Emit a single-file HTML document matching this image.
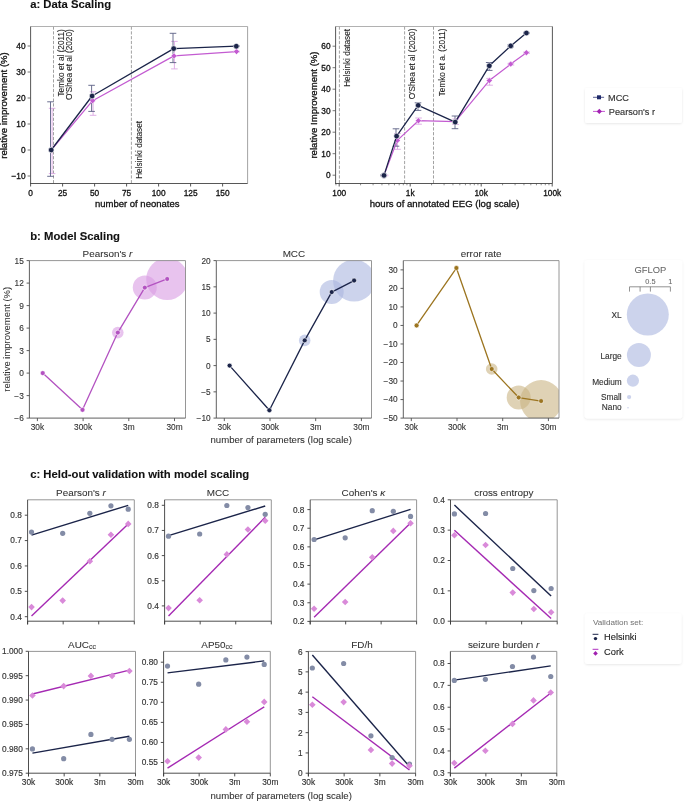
<!DOCTYPE html>
<html><head><meta charset="utf-8"><title>Scaling figure</title>
<style>html,body{margin:0;padding:0;background:#fff;width:685px;height:801px;overflow:hidden}svg{display:block;will-change:transform}
text{font-family:"Liberation Sans", sans-serif}</style></head>
<body>
<svg width="685" height="801" viewBox="0 0 685 801" font-family='"Liberation Sans", sans-serif'><defs><filter id="sh" x="-10%" y="-10%" width="120%" height="130%"><feDropShadow dx="0" dy="0.8" stdDeviation="1.2" flood-color="#000" flood-opacity="0.10"/></filter></defs><rect width="685" height="801" fill="#fff"/><text x="30.2" y="7.8" font-size="11.3" text-anchor="start" fill="#111" stroke="#111" stroke-width="0.1" font-weight="bold">a: Data Scaling</text>
<line x1="53.5" y1="26.5" x2="53.5" y2="183.5" stroke="#8a8a8a" stroke-width="0.8" stroke-dasharray="3.2 1.6"/>
<line x1="131.4" y1="26.5" x2="131.4" y2="183.5" stroke="#8a8a8a" stroke-width="0.8" stroke-dasharray="3.2 1.6"/>
<line x1="30.6" y1="26.5" x2="247.6" y2="26.5" stroke="#a8a8a8" stroke-width="0.9"/>
<line x1="247.6" y1="26.5" x2="247.6" y2="183.5" stroke="#999" stroke-width="0.9"/>
<line x1="30.6" y1="26.5" x2="30.6" y2="183.95" stroke="#444" stroke-width="0.9"/>
<line x1="30.15" y1="183.5" x2="247.6" y2="183.5" stroke="#444" stroke-width="0.9"/>
<line x1="30.6" y1="183.5" x2="30.6" y2="186.5" stroke="#444" stroke-width="0.9"/>
<text x="30.6" y="195.9" font-size="8.3" text-anchor="middle" fill="#111" stroke="#111" stroke-width="0.3">0</text>
<line x1="62.6" y1="183.5" x2="62.6" y2="186.5" stroke="#444" stroke-width="0.9"/>
<text x="62.6" y="195.9" font-size="8.3" text-anchor="middle" fill="#111" stroke="#111" stroke-width="0.3">25</text>
<line x1="94.6" y1="183.5" x2="94.6" y2="186.5" stroke="#444" stroke-width="0.9"/>
<text x="94.6" y="195.9" font-size="8.3" text-anchor="middle" fill="#111" stroke="#111" stroke-width="0.3">50</text>
<line x1="126.6" y1="183.5" x2="126.6" y2="186.5" stroke="#444" stroke-width="0.9"/>
<text x="126.6" y="195.9" font-size="8.3" text-anchor="middle" fill="#111" stroke="#111" stroke-width="0.3">75</text>
<line x1="158.6" y1="183.5" x2="158.6" y2="186.5" stroke="#444" stroke-width="0.9"/>
<text x="158.6" y="195.9" font-size="8.3" text-anchor="middle" fill="#111" stroke="#111" stroke-width="0.3">100</text>
<line x1="190.6" y1="183.5" x2="190.6" y2="186.5" stroke="#444" stroke-width="0.9"/>
<text x="190.6" y="195.9" font-size="8.3" text-anchor="middle" fill="#111" stroke="#111" stroke-width="0.3">125</text>
<line x1="222.6" y1="183.5" x2="222.6" y2="186.5" stroke="#444" stroke-width="0.9"/>
<text x="222.6" y="195.9" font-size="8.3" text-anchor="middle" fill="#111" stroke="#111" stroke-width="0.3">150</text>
<line x1="27.6" y1="176" x2="30.6" y2="176" stroke="#555" stroke-width="0.8"/>
<text x="25.6" y="178.9" font-size="8.3" text-anchor="end" fill="#111" stroke="#111" stroke-width="0.3">−10</text>
<line x1="27.6" y1="150" x2="30.6" y2="150" stroke="#555" stroke-width="0.8"/>
<text x="25.6" y="152.9" font-size="8.3" text-anchor="end" fill="#111" stroke="#111" stroke-width="0.3">0</text>
<line x1="27.6" y1="124" x2="30.6" y2="124" stroke="#555" stroke-width="0.8"/>
<text x="25.6" y="126.9" font-size="8.3" text-anchor="end" fill="#111" stroke="#111" stroke-width="0.3">10</text>
<line x1="27.6" y1="98" x2="30.6" y2="98" stroke="#555" stroke-width="0.8"/>
<text x="25.6" y="100.9" font-size="8.3" text-anchor="end" fill="#111" stroke="#111" stroke-width="0.3">20</text>
<line x1="27.6" y1="72" x2="30.6" y2="72" stroke="#555" stroke-width="0.8"/>
<text x="25.6" y="74.9" font-size="8.3" text-anchor="end" fill="#111" stroke="#111" stroke-width="0.3">30</text>
<line x1="27.6" y1="46" x2="30.6" y2="46" stroke="#555" stroke-width="0.8"/>
<text x="25.6" y="48.9" font-size="8.3" text-anchor="end" fill="#111" stroke="#111" stroke-width="0.3">40</text>
<text x="7.3" y="105.5" font-size="9.6" text-anchor="middle" fill="#111" stroke="#111" stroke-width="0.3" transform="rotate(-90 7.3 105.5)">relative improvement (%)</text>
<text x="137.2" y="206.6" font-size="9.5" text-anchor="middle" fill="#111" stroke="#111" stroke-width="0.3">number of neonates</text>
<text x="63.6" y="29.3" font-size="8.2" text-anchor="end" fill="#222" stroke="#222" stroke-width="0.1" transform="rotate(-90 63.6 29.3)">Temko et al (2011)</text>
<text x="72.4" y="29.3" font-size="8.2" text-anchor="end" fill="#222" stroke="#222" stroke-width="0.1" transform="rotate(-90 72.4 29.3)">O'Shea et al (2020)</text>
<text x="141.6" y="178.8" font-size="8.2" text-anchor="start" fill="#222" stroke="#222" stroke-width="0.1" transform="rotate(-90 141.6 178.8)">Helsinki dataset</text>
<line x1="52.1" y1="108.3" x2="52.1" y2="173.6" stroke="#dba7e3" stroke-width="0.9"/>
<line x1="48.8" y1="108.3" x2="55.4" y2="108.3" stroke="#dba7e3" stroke-width="0.9"/>
<line x1="48.8" y1="173.6" x2="55.4" y2="173.6" stroke="#dba7e3" stroke-width="0.9"/>
<line x1="93.1" y1="91.8" x2="93.1" y2="115.3" stroke="#dba7e3" stroke-width="0.9"/>
<line x1="89.8" y1="91.8" x2="96.4" y2="91.8" stroke="#dba7e3" stroke-width="0.9"/>
<line x1="89.8" y1="115.3" x2="96.4" y2="115.3" stroke="#dba7e3" stroke-width="0.9"/>
<line x1="174.4" y1="41.4" x2="174.4" y2="68.9" stroke="#dba7e3" stroke-width="0.9"/>
<line x1="171.1" y1="41.4" x2="177.7" y2="41.4" stroke="#dba7e3" stroke-width="0.9"/>
<line x1="171.1" y1="68.9" x2="177.7" y2="68.9" stroke="#dba7e3" stroke-width="0.9"/>
<line x1="236.5" y1="51.2" x2="236.5" y2="52" stroke="#dba7e3" stroke-width="0.9"/>
<line x1="233.2" y1="51.2" x2="239.8" y2="51.2" stroke="#dba7e3" stroke-width="0.9"/>
<line x1="233.2" y1="52" x2="239.8" y2="52" stroke="#dba7e3" stroke-width="0.9"/>
<line x1="50.5" y1="101.8" x2="50.5" y2="176.3" stroke="#5b6085" stroke-width="0.9"/>
<line x1="47.2" y1="101.8" x2="53.8" y2="101.8" stroke="#5b6085" stroke-width="0.9"/>
<line x1="47.2" y1="176.3" x2="53.8" y2="176.3" stroke="#5b6085" stroke-width="0.9"/>
<line x1="91.6" y1="85.3" x2="91.6" y2="111.4" stroke="#5b6085" stroke-width="0.9"/>
<line x1="88.3" y1="85.3" x2="94.9" y2="85.3" stroke="#5b6085" stroke-width="0.9"/>
<line x1="88.3" y1="111.4" x2="94.9" y2="111.4" stroke="#5b6085" stroke-width="0.9"/>
<line x1="173" y1="33.3" x2="173" y2="62.6" stroke="#5b6085" stroke-width="0.9"/>
<line x1="169.7" y1="33.3" x2="176.3" y2="33.3" stroke="#5b6085" stroke-width="0.9"/>
<line x1="169.7" y1="62.6" x2="176.3" y2="62.6" stroke="#5b6085" stroke-width="0.9"/>
<line x1="236.3" y1="45.6" x2="236.3" y2="46.6" stroke="#5b6085" stroke-width="0.9"/>
<line x1="233" y1="45.6" x2="239.6" y2="45.6" stroke="#5b6085" stroke-width="0.9"/>
<line x1="233" y1="46.6" x2="239.6" y2="46.6" stroke="#5b6085" stroke-width="0.9"/>
<polyline points="51.2,150 92.6,100.7 174,55.9 236.5,51.6" fill="none" stroke="#c35bd1" stroke-width="1.2" stroke-linejoin="round"/>
<path d="M51.2 147L54.2 150L51.2 153L48.2 150Z" fill="#c35bd1" stroke="#fff" stroke-width="0.5"/>
<path d="M92.6 97.7L95.6 100.7L92.6 103.7L89.6 100.7Z" fill="#c35bd1" stroke="#fff" stroke-width="0.5"/>
<path d="M174 52.9L177 55.9L174 58.9L171 55.9Z" fill="#c35bd1" stroke="#fff" stroke-width="0.5"/>
<path d="M236.5 48.6L239.5 51.6L236.5 54.6L233.5 51.6Z" fill="#c35bd1" stroke="#fff" stroke-width="0.5"/>
<polyline points="51.2,150 92.1,96 173.7,48.6 236.3,46.2" fill="none" stroke="#1b2449" stroke-width="1.3" stroke-linejoin="round"/>
<circle cx="51.2" cy="150" r="2.8" fill="#1b2449" stroke="#fff" stroke-width="0.6"/>
<circle cx="92.1" cy="96" r="2.8" fill="#1b2449" stroke="#fff" stroke-width="0.6"/>
<circle cx="173.7" cy="48.6" r="2.8" fill="#1b2449" stroke="#fff" stroke-width="0.6"/>
<circle cx="236.3" cy="46.2" r="2.8" fill="#1b2449" stroke="#fff" stroke-width="0.6"/>
<line x1="339.4" y1="26.5" x2="339.4" y2="183.5" stroke="#8a8a8a" stroke-width="0.8" stroke-dasharray="3.2 1.6"/>
<line x1="404.6" y1="26.5" x2="404.6" y2="183.5" stroke="#8a8a8a" stroke-width="0.8" stroke-dasharray="3.2 1.6"/>
<line x1="433.5" y1="26.5" x2="433.5" y2="183.5" stroke="#8a8a8a" stroke-width="0.8" stroke-dasharray="3.2 1.6"/>
<line x1="335.6" y1="26.5" x2="552.4" y2="26.5" stroke="#a8a8a8" stroke-width="0.9"/>
<line x1="552.4" y1="26.5" x2="552.4" y2="183.5" stroke="#444" stroke-width="0.9"/>
<line x1="335.6" y1="26.5" x2="335.6" y2="183.95" stroke="#444" stroke-width="0.9"/>
<line x1="335.15" y1="183.5" x2="552.4" y2="183.5" stroke="#444" stroke-width="0.9"/>
<line x1="335.95" y1="183.5" x2="335.95" y2="185.3" stroke="#444" stroke-width="0.6"/>
<line x1="360.57" y1="183.5" x2="360.57" y2="185.3" stroke="#444" stroke-width="0.6"/>
<line x1="373.08" y1="183.5" x2="373.08" y2="185.3" stroke="#444" stroke-width="0.6"/>
<line x1="381.95" y1="183.5" x2="381.95" y2="185.3" stroke="#444" stroke-width="0.6"/>
<line x1="388.83" y1="183.5" x2="388.83" y2="185.3" stroke="#444" stroke-width="0.6"/>
<line x1="394.45" y1="183.5" x2="394.45" y2="185.3" stroke="#444" stroke-width="0.6"/>
<line x1="399.2" y1="183.5" x2="399.2" y2="185.3" stroke="#444" stroke-width="0.6"/>
<line x1="403.32" y1="183.5" x2="403.32" y2="185.3" stroke="#444" stroke-width="0.6"/>
<line x1="406.95" y1="183.5" x2="406.95" y2="185.3" stroke="#444" stroke-width="0.6"/>
<line x1="431.57" y1="183.5" x2="431.57" y2="185.3" stroke="#444" stroke-width="0.6"/>
<line x1="444.08" y1="183.5" x2="444.08" y2="185.3" stroke="#444" stroke-width="0.6"/>
<line x1="452.95" y1="183.5" x2="452.95" y2="185.3" stroke="#444" stroke-width="0.6"/>
<line x1="459.83" y1="183.5" x2="459.83" y2="185.3" stroke="#444" stroke-width="0.6"/>
<line x1="465.45" y1="183.5" x2="465.45" y2="185.3" stroke="#444" stroke-width="0.6"/>
<line x1="470.2" y1="183.5" x2="470.2" y2="185.3" stroke="#444" stroke-width="0.6"/>
<line x1="474.32" y1="183.5" x2="474.32" y2="185.3" stroke="#444" stroke-width="0.6"/>
<line x1="477.95" y1="183.5" x2="477.95" y2="185.3" stroke="#444" stroke-width="0.6"/>
<line x1="502.57" y1="183.5" x2="502.57" y2="185.3" stroke="#444" stroke-width="0.6"/>
<line x1="515.08" y1="183.5" x2="515.08" y2="185.3" stroke="#444" stroke-width="0.6"/>
<line x1="523.95" y1="183.5" x2="523.95" y2="185.3" stroke="#444" stroke-width="0.6"/>
<line x1="530.83" y1="183.5" x2="530.83" y2="185.3" stroke="#444" stroke-width="0.6"/>
<line x1="536.45" y1="183.5" x2="536.45" y2="185.3" stroke="#444" stroke-width="0.6"/>
<line x1="541.2" y1="183.5" x2="541.2" y2="185.3" stroke="#444" stroke-width="0.6"/>
<line x1="545.32" y1="183.5" x2="545.32" y2="185.3" stroke="#444" stroke-width="0.6"/>
<line x1="548.95" y1="183.5" x2="548.95" y2="185.3" stroke="#444" stroke-width="0.6"/>
<line x1="339.2" y1="183.5" x2="339.2" y2="186.5" stroke="#444" stroke-width="0.9"/>
<text x="339.2" y="196.1" font-size="8.3" text-anchor="middle" fill="#111" stroke="#111" stroke-width="0.3">100</text>
<line x1="410.2" y1="183.5" x2="410.2" y2="186.5" stroke="#444" stroke-width="0.9"/>
<text x="410.2" y="196.1" font-size="8.3" text-anchor="middle" fill="#111" stroke="#111" stroke-width="0.3">1k</text>
<line x1="481.2" y1="183.5" x2="481.2" y2="186.5" stroke="#444" stroke-width="0.9"/>
<text x="481.2" y="196.1" font-size="8.3" text-anchor="middle" fill="#111" stroke="#111" stroke-width="0.3">10k</text>
<line x1="552.2" y1="183.5" x2="552.2" y2="186.5" stroke="#444" stroke-width="0.9"/>
<text x="552.2" y="196.1" font-size="8.3" text-anchor="middle" fill="#111" stroke="#111" stroke-width="0.3">100k</text>
<line x1="332.6" y1="175.2" x2="335.6" y2="175.2" stroke="#555" stroke-width="0.8"/>
<text x="330.6" y="178.1" font-size="8.3" text-anchor="end" fill="#111" stroke="#111" stroke-width="0.3">0</text>
<line x1="332.6" y1="153.7" x2="335.6" y2="153.7" stroke="#555" stroke-width="0.8"/>
<text x="330.6" y="156.6" font-size="8.3" text-anchor="end" fill="#111" stroke="#111" stroke-width="0.3">10</text>
<line x1="332.6" y1="132.2" x2="335.6" y2="132.2" stroke="#555" stroke-width="0.8"/>
<text x="330.6" y="135.1" font-size="8.3" text-anchor="end" fill="#111" stroke="#111" stroke-width="0.3">20</text>
<line x1="332.6" y1="110.7" x2="335.6" y2="110.7" stroke="#555" stroke-width="0.8"/>
<text x="330.6" y="113.6" font-size="8.3" text-anchor="end" fill="#111" stroke="#111" stroke-width="0.3">30</text>
<line x1="332.6" y1="89.2" x2="335.6" y2="89.2" stroke="#555" stroke-width="0.8"/>
<text x="330.6" y="92.1" font-size="8.3" text-anchor="end" fill="#111" stroke="#111" stroke-width="0.3">40</text>
<line x1="332.6" y1="67.7" x2="335.6" y2="67.7" stroke="#555" stroke-width="0.8"/>
<text x="330.6" y="70.6" font-size="8.3" text-anchor="end" fill="#111" stroke="#111" stroke-width="0.3">50</text>
<line x1="332.6" y1="46.2" x2="335.6" y2="46.2" stroke="#555" stroke-width="0.8"/>
<text x="330.6" y="49.1" font-size="8.3" text-anchor="end" fill="#111" stroke="#111" stroke-width="0.3">60</text>
<text x="316.6" y="105" font-size="9.6" text-anchor="middle" fill="#111" stroke="#111" stroke-width="0.3" transform="rotate(-90 316.6 105)">relative Improvement (%)</text>
<text x="444.6" y="206.8" font-size="9.6" text-anchor="middle" fill="#111" stroke="#111" stroke-width="0.3">hours of annotated EEG (log scale)</text>
<text x="349.5" y="29" font-size="8.2" text-anchor="end" fill="#222" stroke="#222" stroke-width="0.1" transform="rotate(-90 349.5 29)">Helsinki dataset</text>
<text x="414.8" y="28.6" font-size="8.2" text-anchor="end" fill="#222" stroke="#222" stroke-width="0.1" transform="rotate(-90 414.8 28.6)">O'Shea et al (2020)</text>
<text x="445.4" y="28.6" font-size="8.2" text-anchor="end" fill="#222" stroke="#222" stroke-width="0.1" transform="rotate(-90 445.4 28.6)">Temko et a. (2011)</text>
<line x1="385" y1="175" x2="385" y2="175.8" stroke="#dba7e3" stroke-width="0.9"/>
<line x1="381.7" y1="175" x2="388.3" y2="175" stroke="#dba7e3" stroke-width="0.9"/>
<line x1="381.7" y1="175.8" x2="388.3" y2="175.8" stroke="#dba7e3" stroke-width="0.9"/>
<line x1="397.5" y1="133.5" x2="397.5" y2="149.3" stroke="#dba7e3" stroke-width="0.9"/>
<line x1="394.2" y1="133.5" x2="400.8" y2="133.5" stroke="#dba7e3" stroke-width="0.9"/>
<line x1="394.2" y1="149.3" x2="400.8" y2="149.3" stroke="#dba7e3" stroke-width="0.9"/>
<line x1="418.6" y1="118" x2="418.6" y2="124.2" stroke="#dba7e3" stroke-width="0.9"/>
<line x1="415.3" y1="118" x2="421.9" y2="118" stroke="#dba7e3" stroke-width="0.9"/>
<line x1="415.3" y1="124.2" x2="421.9" y2="124.2" stroke="#dba7e3" stroke-width="0.9"/>
<line x1="455.6" y1="119" x2="455.6" y2="124.5" stroke="#dba7e3" stroke-width="0.9"/>
<line x1="452.3" y1="119" x2="458.9" y2="119" stroke="#dba7e3" stroke-width="0.9"/>
<line x1="452.3" y1="124.5" x2="458.9" y2="124.5" stroke="#dba7e3" stroke-width="0.9"/>
<line x1="489.6" y1="78.4" x2="489.6" y2="85.2" stroke="#dba7e3" stroke-width="0.9"/>
<line x1="486.3" y1="78.4" x2="492.9" y2="78.4" stroke="#dba7e3" stroke-width="0.9"/>
<line x1="486.3" y1="85.2" x2="492.9" y2="85.2" stroke="#dba7e3" stroke-width="0.9"/>
<line x1="510.9" y1="63.3" x2="510.9" y2="65" stroke="#dba7e3" stroke-width="0.9"/>
<line x1="507.6" y1="63.3" x2="514.2" y2="63.3" stroke="#dba7e3" stroke-width="0.9"/>
<line x1="507.6" y1="65" x2="514.2" y2="65" stroke="#dba7e3" stroke-width="0.9"/>
<line x1="526.6" y1="52" x2="526.6" y2="53.4" stroke="#dba7e3" stroke-width="0.9"/>
<line x1="523.3" y1="52" x2="529.9" y2="52" stroke="#dba7e3" stroke-width="0.9"/>
<line x1="523.3" y1="53.4" x2="529.9" y2="53.4" stroke="#dba7e3" stroke-width="0.9"/>
<line x1="383.4" y1="175" x2="383.4" y2="175.8" stroke="#5b6085" stroke-width="0.9"/>
<line x1="380.1" y1="175" x2="386.7" y2="175" stroke="#5b6085" stroke-width="0.9"/>
<line x1="380.1" y1="175.8" x2="386.7" y2="175.8" stroke="#5b6085" stroke-width="0.9"/>
<line x1="396" y1="128.8" x2="396" y2="146.2" stroke="#5b6085" stroke-width="0.9"/>
<line x1="392.7" y1="128.8" x2="399.3" y2="128.8" stroke="#5b6085" stroke-width="0.9"/>
<line x1="392.7" y1="146.2" x2="399.3" y2="146.2" stroke="#5b6085" stroke-width="0.9"/>
<line x1="418" y1="102.8" x2="418" y2="110.4" stroke="#5b6085" stroke-width="0.9"/>
<line x1="414.7" y1="102.8" x2="421.3" y2="102.8" stroke="#5b6085" stroke-width="0.9"/>
<line x1="414.7" y1="110.4" x2="421.3" y2="110.4" stroke="#5b6085" stroke-width="0.9"/>
<line x1="455" y1="116" x2="455" y2="128.7" stroke="#5b6085" stroke-width="0.9"/>
<line x1="451.7" y1="116" x2="458.3" y2="116" stroke="#5b6085" stroke-width="0.9"/>
<line x1="451.7" y1="128.7" x2="458.3" y2="128.7" stroke="#5b6085" stroke-width="0.9"/>
<line x1="489.2" y1="62.5" x2="489.2" y2="70.4" stroke="#5b6085" stroke-width="0.9"/>
<line x1="485.9" y1="62.5" x2="492.5" y2="62.5" stroke="#5b6085" stroke-width="0.9"/>
<line x1="485.9" y1="70.4" x2="492.5" y2="70.4" stroke="#5b6085" stroke-width="0.9"/>
<line x1="510.6" y1="45" x2="510.6" y2="46.8" stroke="#5b6085" stroke-width="0.9"/>
<line x1="507.3" y1="45" x2="513.9" y2="45" stroke="#5b6085" stroke-width="0.9"/>
<line x1="507.3" y1="46.8" x2="513.9" y2="46.8" stroke="#5b6085" stroke-width="0.9"/>
<line x1="526.4" y1="32.4" x2="526.4" y2="33.6" stroke="#5b6085" stroke-width="0.9"/>
<line x1="523.1" y1="32.4" x2="529.7" y2="32.4" stroke="#5b6085" stroke-width="0.9"/>
<line x1="523.1" y1="33.6" x2="529.7" y2="33.6" stroke="#5b6085" stroke-width="0.9"/>
<polyline points="384,175.4 397.3,140.4 418.4,120.7 455.2,121.6 489.3,80.6 510.7,64.1 526.4,52.7" fill="none" stroke="#c35bd1" stroke-width="1.2" stroke-linejoin="round"/>
<path d="M384 172.4L387 175.4L384 178.4L381 175.4Z" fill="#c35bd1" stroke="#fff" stroke-width="0.5"/>
<path d="M397.3 137.4L400.3 140.4L397.3 143.4L394.3 140.4Z" fill="#c35bd1" stroke="#fff" stroke-width="0.5"/>
<path d="M418.4 117.7L421.4 120.7L418.4 123.7L415.4 120.7Z" fill="#c35bd1" stroke="#fff" stroke-width="0.5"/>
<path d="M455.2 118.6L458.2 121.6L455.2 124.6L452.2 121.6Z" fill="#c35bd1" stroke="#fff" stroke-width="0.5"/>
<path d="M489.3 77.6L492.3 80.6L489.3 83.6L486.3 80.6Z" fill="#c35bd1" stroke="#fff" stroke-width="0.5"/>
<path d="M510.7 61.1L513.7 64.1L510.7 67.1L507.7 64.1Z" fill="#c35bd1" stroke="#fff" stroke-width="0.5"/>
<path d="M526.4 49.7L529.4 52.7L526.4 55.7L523.4 52.7Z" fill="#c35bd1" stroke="#fff" stroke-width="0.5"/>
<polyline points="384,175.4 396.6,136.1 418.2,105.3 455.2,122.1 489.3,65.8 510.7,45.9 526.4,33" fill="none" stroke="#1b2449" stroke-width="1.3" stroke-linejoin="round"/>
<circle cx="384" cy="175.4" r="2.8" fill="#1b2449" stroke="#fff" stroke-width="0.6"/>
<circle cx="396.6" cy="136.1" r="2.8" fill="#1b2449" stroke="#fff" stroke-width="0.6"/>
<circle cx="418.2" cy="105.3" r="2.8" fill="#1b2449" stroke="#fff" stroke-width="0.6"/>
<circle cx="455.2" cy="122.1" r="2.8" fill="#1b2449" stroke="#fff" stroke-width="0.6"/>
<circle cx="489.3" cy="65.8" r="2.8" fill="#1b2449" stroke="#fff" stroke-width="0.6"/>
<circle cx="510.7" cy="45.9" r="2.8" fill="#1b2449" stroke="#fff" stroke-width="0.6"/>
<circle cx="526.4" cy="33" r="2.8" fill="#1b2449" stroke="#fff" stroke-width="0.6"/>
<rect x="585" y="88" width="97" height="35" fill="#fff" rx="2" filter="url(#sh)"/>
<line x1="593" y1="97.3" x2="604.1" y2="97.3" stroke="#5a5f90" stroke-width="1"/>
<rect x="597" y="95.3" width="4" height="4" fill="#1f2a6a"/>
<text x="608" y="101" font-size="9.2" text-anchor="start" fill="#333" stroke="#333" stroke-width="0.15">MCC</text>
<line x1="593" y1="111.4" x2="605" y2="111.4" stroke="#c45ad2" stroke-width="1"/>
<path d="M599.3 108.8L601.9 111.4L599.3 114L596.7 111.4Z" fill="#a323b3"/>
<text x="608.8" y="114.6" font-size="9.2" text-anchor="start" fill="#333" stroke="#333" stroke-width="0.15">Pearson's r</text>
<text x="30.2" y="240.4" font-size="11.3" text-anchor="start" fill="#111" stroke="#111" stroke-width="0.1" font-weight="bold">b: Model Scaling</text>
<clipPath id="c29"><rect x="29.4" y="260.6" width="156.1" height="157.5"/></clipPath>
<g clip-path="url(#c29)">
<circle cx="42.7" cy="373.1" r="0.7" fill="#d99be3" fill-opacity="0.6"/>
<circle cx="82.5" cy="409.85" r="2" fill="#d99be3" fill-opacity="0.6"/>
<circle cx="117.8" cy="332.6" r="5.8" fill="#d99be3" fill-opacity="0.6"/>
<circle cx="144.8" cy="287.6" r="12" fill="#d99be3" fill-opacity="0.6"/>
<circle cx="167.2" cy="278.98" r="21" fill="#d99be3" fill-opacity="0.6"/>
</g>
<polyline points="42.7,373.1 82.5,409.85 117.8,332.6 144.8,287.6 167.2,278.98" fill="none" stroke="#b352c1" stroke-width="1.3" stroke-linejoin="round"/>
<circle cx="42.7" cy="373.1" r="2.45" fill="#b352c1" stroke="#fff" stroke-width="0.55"/>
<circle cx="82.5" cy="409.85" r="2.45" fill="#b352c1" stroke="#fff" stroke-width="0.55"/>
<circle cx="117.8" cy="332.6" r="2.45" fill="#b352c1" stroke="#fff" stroke-width="0.55"/>
<circle cx="144.8" cy="287.6" r="2.45" fill="#b352c1" stroke="#fff" stroke-width="0.55"/>
<circle cx="167.2" cy="278.98" r="2.45" fill="#b352c1" stroke="#fff" stroke-width="0.55"/>
<line x1="29.4" y1="260.6" x2="185.5" y2="260.6" stroke="#8a8a8a" stroke-width="0.9"/>
<line x1="185.5" y1="260.6" x2="185.5" y2="418.1" stroke="#8a8a8a" stroke-width="0.9"/>
<line x1="29.4" y1="260.6" x2="29.4" y2="418.1" stroke="#4d4d4d" stroke-width="0.9"/>
<line x1="29.4" y1="418.1" x2="185.5" y2="418.1" stroke="#4d4d4d" stroke-width="0.9"/>
<line x1="37.4" y1="418.1" x2="37.4" y2="421.1" stroke="#4d4d4d" stroke-width="0.9"/>
<text x="37.4" y="429.6" font-size="8.3" text-anchor="middle" fill="#333" stroke="#333" stroke-width="0.12">30k</text>
<line x1="83.1" y1="418.1" x2="83.1" y2="421.1" stroke="#4d4d4d" stroke-width="0.9"/>
<text x="83.1" y="429.6" font-size="8.3" text-anchor="middle" fill="#333" stroke="#333" stroke-width="0.12">300k</text>
<line x1="128.8" y1="418.1" x2="128.8" y2="421.1" stroke="#4d4d4d" stroke-width="0.9"/>
<text x="128.8" y="429.6" font-size="8.3" text-anchor="middle" fill="#333" stroke="#333" stroke-width="0.12">3m</text>
<line x1="174.5" y1="418.1" x2="174.5" y2="421.1" stroke="#4d4d4d" stroke-width="0.9"/>
<text x="174.5" y="429.6" font-size="8.3" text-anchor="middle" fill="#333" stroke="#333" stroke-width="0.12">30m</text>
<line x1="26.6" y1="260.6" x2="29.4" y2="260.6" stroke="#4d4d4d" stroke-width="0.9"/>
<text x="23.8" y="263.5" font-size="8.3" text-anchor="end" fill="#333" stroke="#333" stroke-width="0.12">15</text>
<line x1="26.6" y1="283.1" x2="29.4" y2="283.1" stroke="#4d4d4d" stroke-width="0.9"/>
<text x="23.8" y="286" font-size="8.3" text-anchor="end" fill="#333" stroke="#333" stroke-width="0.12">12</text>
<line x1="26.6" y1="305.6" x2="29.4" y2="305.6" stroke="#4d4d4d" stroke-width="0.9"/>
<text x="23.8" y="308.5" font-size="8.3" text-anchor="end" fill="#333" stroke="#333" stroke-width="0.12">9</text>
<line x1="26.6" y1="328.1" x2="29.4" y2="328.1" stroke="#4d4d4d" stroke-width="0.9"/>
<text x="23.8" y="331" font-size="8.3" text-anchor="end" fill="#333" stroke="#333" stroke-width="0.12">6</text>
<line x1="26.6" y1="350.6" x2="29.4" y2="350.6" stroke="#4d4d4d" stroke-width="0.9"/>
<text x="23.8" y="353.5" font-size="8.3" text-anchor="end" fill="#333" stroke="#333" stroke-width="0.12">3</text>
<line x1="26.6" y1="373.1" x2="29.4" y2="373.1" stroke="#4d4d4d" stroke-width="0.9"/>
<text x="23.8" y="376" font-size="8.3" text-anchor="end" fill="#333" stroke="#333" stroke-width="0.12">0</text>
<line x1="26.6" y1="395.6" x2="29.4" y2="395.6" stroke="#4d4d4d" stroke-width="0.9"/>
<text x="23.8" y="398.5" font-size="8.3" text-anchor="end" fill="#333" stroke="#333" stroke-width="0.12">−3</text>
<line x1="26.6" y1="418.1" x2="29.4" y2="418.1" stroke="#4d4d4d" stroke-width="0.9"/>
<text x="23.8" y="421" font-size="8.3" text-anchor="end" fill="#333" stroke="#333" stroke-width="0.12">−6</text>
<text x="107.45" y="256.6" font-size="9.9" text-anchor="middle" fill="#333" stroke="#333" stroke-width="0.08">Pearson's <tspan font-style="italic">r</tspan></text>
<clipPath id="c216"><rect x="216.3" y="260.6" width="155.2" height="157.5"/></clipPath>
<g clip-path="url(#c216)">
<circle cx="229.6" cy="365.6" r="0.7" fill="#aab6df" fill-opacity="0.6"/>
<circle cx="269.4" cy="410.23" r="2" fill="#aab6df" fill-opacity="0.6"/>
<circle cx="304.7" cy="340.4" r="5.8" fill="#aab6df" fill-opacity="0.6"/>
<circle cx="331.7" cy="292.1" r="12" fill="#aab6df" fill-opacity="0.6"/>
<circle cx="354.1" cy="280.55" r="21" fill="#aab6df" fill-opacity="0.6"/>
</g>
<polyline points="229.6,365.6 269.4,410.23 304.7,340.4 331.7,292.1 354.1,280.55" fill="none" stroke="#1b2449" stroke-width="1.3" stroke-linejoin="round"/>
<circle cx="229.6" cy="365.6" r="2.45" fill="#1b2449" stroke="#fff" stroke-width="0.55"/>
<circle cx="269.4" cy="410.23" r="2.45" fill="#1b2449" stroke="#fff" stroke-width="0.55"/>
<circle cx="304.7" cy="340.4" r="2.45" fill="#1b2449" stroke="#fff" stroke-width="0.55"/>
<circle cx="331.7" cy="292.1" r="2.45" fill="#1b2449" stroke="#fff" stroke-width="0.55"/>
<circle cx="354.1" cy="280.55" r="2.45" fill="#1b2449" stroke="#fff" stroke-width="0.55"/>
<line x1="216.3" y1="260.6" x2="371.5" y2="260.6" stroke="#8a8a8a" stroke-width="0.9"/>
<line x1="371.5" y1="260.6" x2="371.5" y2="418.1" stroke="#8a8a8a" stroke-width="0.9"/>
<line x1="216.3" y1="260.6" x2="216.3" y2="418.1" stroke="#4d4d4d" stroke-width="0.9"/>
<line x1="216.3" y1="418.1" x2="371.5" y2="418.1" stroke="#4d4d4d" stroke-width="0.9"/>
<line x1="224.3" y1="418.1" x2="224.3" y2="421.1" stroke="#4d4d4d" stroke-width="0.9"/>
<text x="224.3" y="429.6" font-size="8.3" text-anchor="middle" fill="#333" stroke="#333" stroke-width="0.12">30k</text>
<line x1="270" y1="418.1" x2="270" y2="421.1" stroke="#4d4d4d" stroke-width="0.9"/>
<text x="270" y="429.6" font-size="8.3" text-anchor="middle" fill="#333" stroke="#333" stroke-width="0.12">300k</text>
<line x1="315.7" y1="418.1" x2="315.7" y2="421.1" stroke="#4d4d4d" stroke-width="0.9"/>
<text x="315.7" y="429.6" font-size="8.3" text-anchor="middle" fill="#333" stroke="#333" stroke-width="0.12">3m</text>
<line x1="361.4" y1="418.1" x2="361.4" y2="421.1" stroke="#4d4d4d" stroke-width="0.9"/>
<text x="361.4" y="429.6" font-size="8.3" text-anchor="middle" fill="#333" stroke="#333" stroke-width="0.12">30m</text>
<line x1="213.5" y1="260.6" x2="216.3" y2="260.6" stroke="#4d4d4d" stroke-width="0.9"/>
<text x="210.7" y="263.5" font-size="8.3" text-anchor="end" fill="#333" stroke="#333" stroke-width="0.12">20</text>
<line x1="213.5" y1="286.85" x2="216.3" y2="286.85" stroke="#4d4d4d" stroke-width="0.9"/>
<text x="210.7" y="289.75" font-size="8.3" text-anchor="end" fill="#333" stroke="#333" stroke-width="0.12">15</text>
<line x1="213.5" y1="313.1" x2="216.3" y2="313.1" stroke="#4d4d4d" stroke-width="0.9"/>
<text x="210.7" y="316" font-size="8.3" text-anchor="end" fill="#333" stroke="#333" stroke-width="0.12">10</text>
<line x1="213.5" y1="339.35" x2="216.3" y2="339.35" stroke="#4d4d4d" stroke-width="0.9"/>
<text x="210.7" y="342.25" font-size="8.3" text-anchor="end" fill="#333" stroke="#333" stroke-width="0.12">5</text>
<line x1="213.5" y1="365.6" x2="216.3" y2="365.6" stroke="#4d4d4d" stroke-width="0.9"/>
<text x="210.7" y="368.5" font-size="8.3" text-anchor="end" fill="#333" stroke="#333" stroke-width="0.12">0</text>
<line x1="213.5" y1="391.85" x2="216.3" y2="391.85" stroke="#4d4d4d" stroke-width="0.9"/>
<text x="210.7" y="394.75" font-size="8.3" text-anchor="end" fill="#333" stroke="#333" stroke-width="0.12">−5</text>
<line x1="213.5" y1="418.1" x2="216.3" y2="418.1" stroke="#4d4d4d" stroke-width="0.9"/>
<text x="210.7" y="421" font-size="8.3" text-anchor="end" fill="#333" stroke="#333" stroke-width="0.12">−10</text>
<text x="293.9" y="256.6" font-size="9.9" text-anchor="middle" fill="#333" stroke="#333" stroke-width="0.08">MCC</text>
<clipPath id="c403"><rect x="403.3" y="260.6" width="155.7" height="157.5"/></clipPath>
<g clip-path="url(#c403)">
<circle cx="416.6" cy="325.45" r="0.7" fill="#cab484" fill-opacity="0.6"/>
<circle cx="456.4" cy="268.01" r="2" fill="#cab484" fill-opacity="0.6"/>
<circle cx="491.7" cy="369" r="5.8" fill="#cab484" fill-opacity="0.6"/>
<circle cx="518.7" cy="397.53" r="12" fill="#cab484" fill-opacity="0.6"/>
<circle cx="541.1" cy="401.05" r="21" fill="#cab484" fill-opacity="0.6"/>
</g>
<polyline points="416.6,325.45 456.4,268.01 491.7,369 518.7,397.53 541.1,401.05" fill="none" stroke="#9c7520" stroke-width="1.3" stroke-linejoin="round"/>
<circle cx="416.6" cy="325.45" r="2.45" fill="#9c7520" stroke="#fff" stroke-width="0.55"/>
<circle cx="456.4" cy="268.01" r="2.45" fill="#9c7520" stroke="#fff" stroke-width="0.55"/>
<circle cx="491.7" cy="369" r="2.45" fill="#9c7520" stroke="#fff" stroke-width="0.55"/>
<circle cx="518.7" cy="397.53" r="2.45" fill="#9c7520" stroke="#fff" stroke-width="0.55"/>
<circle cx="541.1" cy="401.05" r="2.45" fill="#9c7520" stroke="#fff" stroke-width="0.55"/>
<line x1="403.3" y1="260.6" x2="559" y2="260.6" stroke="#8a8a8a" stroke-width="0.9"/>
<line x1="559" y1="260.6" x2="559" y2="418.1" stroke="#8a8a8a" stroke-width="0.9"/>
<line x1="403.3" y1="260.6" x2="403.3" y2="418.1" stroke="#4d4d4d" stroke-width="0.9"/>
<line x1="403.3" y1="418.1" x2="559" y2="418.1" stroke="#4d4d4d" stroke-width="0.9"/>
<line x1="411.3" y1="418.1" x2="411.3" y2="421.1" stroke="#4d4d4d" stroke-width="0.9"/>
<text x="411.3" y="429.6" font-size="8.3" text-anchor="middle" fill="#333" stroke="#333" stroke-width="0.12">30k</text>
<line x1="457" y1="418.1" x2="457" y2="421.1" stroke="#4d4d4d" stroke-width="0.9"/>
<text x="457" y="429.6" font-size="8.3" text-anchor="middle" fill="#333" stroke="#333" stroke-width="0.12">300k</text>
<line x1="502.7" y1="418.1" x2="502.7" y2="421.1" stroke="#4d4d4d" stroke-width="0.9"/>
<text x="502.7" y="429.6" font-size="8.3" text-anchor="middle" fill="#333" stroke="#333" stroke-width="0.12">3m</text>
<line x1="548.4" y1="418.1" x2="548.4" y2="421.1" stroke="#4d4d4d" stroke-width="0.9"/>
<text x="548.4" y="429.6" font-size="8.3" text-anchor="middle" fill="#333" stroke="#333" stroke-width="0.12">30m</text>
<line x1="400.5" y1="269.86" x2="403.3" y2="269.86" stroke="#4d4d4d" stroke-width="0.9"/>
<text x="397.7" y="272.76" font-size="8.3" text-anchor="end" fill="#333" stroke="#333" stroke-width="0.12">30</text>
<line x1="400.5" y1="288.39" x2="403.3" y2="288.39" stroke="#4d4d4d" stroke-width="0.9"/>
<text x="397.7" y="291.29" font-size="8.3" text-anchor="end" fill="#333" stroke="#333" stroke-width="0.12">20</text>
<line x1="400.5" y1="306.92" x2="403.3" y2="306.92" stroke="#4d4d4d" stroke-width="0.9"/>
<text x="397.7" y="309.82" font-size="8.3" text-anchor="end" fill="#333" stroke="#333" stroke-width="0.12">10</text>
<line x1="400.5" y1="325.45" x2="403.3" y2="325.45" stroke="#4d4d4d" stroke-width="0.9"/>
<text x="397.7" y="328.35" font-size="8.3" text-anchor="end" fill="#333" stroke="#333" stroke-width="0.12">0</text>
<line x1="400.5" y1="343.98" x2="403.3" y2="343.98" stroke="#4d4d4d" stroke-width="0.9"/>
<text x="397.7" y="346.88" font-size="8.3" text-anchor="end" fill="#333" stroke="#333" stroke-width="0.12">−10</text>
<line x1="400.5" y1="362.51" x2="403.3" y2="362.51" stroke="#4d4d4d" stroke-width="0.9"/>
<text x="397.7" y="365.41" font-size="8.3" text-anchor="end" fill="#333" stroke="#333" stroke-width="0.12">−20</text>
<line x1="400.5" y1="381.04" x2="403.3" y2="381.04" stroke="#4d4d4d" stroke-width="0.9"/>
<text x="397.7" y="383.94" font-size="8.3" text-anchor="end" fill="#333" stroke="#333" stroke-width="0.12">−30</text>
<line x1="400.5" y1="399.57" x2="403.3" y2="399.57" stroke="#4d4d4d" stroke-width="0.9"/>
<text x="397.7" y="402.47" font-size="8.3" text-anchor="end" fill="#333" stroke="#333" stroke-width="0.12">−40</text>
<line x1="400.5" y1="418.1" x2="403.3" y2="418.1" stroke="#4d4d4d" stroke-width="0.9"/>
<text x="397.7" y="421" font-size="8.3" text-anchor="end" fill="#333" stroke="#333" stroke-width="0.12">−50</text>
<text x="481.15" y="256.6" font-size="9.9" text-anchor="middle" fill="#333" stroke="#333" stroke-width="0.08">error rate</text>
<text x="10" y="339.3" font-size="9.45" text-anchor="middle" fill="#333" stroke="#333" stroke-width="0.05" transform="rotate(-90 10 339.3)">relative improvement (%)</text>
<text x="281.2" y="443.4" font-size="9.6" text-anchor="middle" fill="#333" stroke="#333" stroke-width="0.08">number of parameters (log scale)</text>
<rect x="584.6" y="260.1" width="97.7" height="158.4" fill="#fff" rx="3" filter="url(#sh)"/>
<text x="650.4" y="272.5" font-size="9.4" text-anchor="middle" fill="#666" stroke="#666" stroke-width="0.05">GFLOP</text>
<line x1="629.5" y1="286.8" x2="670.4" y2="286.8" stroke="#777" stroke-width="0.8"/>
<line x1="629.5" y1="286.8" x2="629.5" y2="291.6" stroke="#777" stroke-width="0.8"/>
<line x1="640.1" y1="286.8" x2="640.1" y2="291.6" stroke="#777" stroke-width="0.8"/>
<line x1="650.4" y1="286.8" x2="650.4" y2="291.6" stroke="#777" stroke-width="0.8"/>
<line x1="670.4" y1="286.8" x2="670.4" y2="291.6" stroke="#777" stroke-width="0.8"/>
<text x="650.4" y="283.7" font-size="7.4" text-anchor="middle" fill="#666" stroke="#666" stroke-width="0.05">0.5</text>
<text x="670.4" y="283.7" font-size="7.4" text-anchor="middle" fill="#666" stroke="#666" stroke-width="0.05">1</text>
<circle cx="647.8" cy="314.5" r="21" fill="#aab6df" fill-opacity="0.6"/>
<text x="621.7" y="318" font-size="8.3" text-anchor="end" fill="#333" stroke="#333" stroke-width="0.12">XL</text>
<circle cx="638.9" cy="354.9" r="12" fill="#aab6df" fill-opacity="0.6"/>
<text x="621.7" y="358.5" font-size="8.3" text-anchor="end" fill="#333" stroke="#333" stroke-width="0.12">Large</text>
<circle cx="632.9" cy="380.7" r="6.1" fill="#aab6df" fill-opacity="0.6"/>
<text x="621.7" y="384.8" font-size="8.3" text-anchor="end" fill="#333" stroke="#333" stroke-width="0.12">Medium</text>
<circle cx="629.1" cy="397.1" r="2.1" fill="#aab6df" fill-opacity="0.6"/>
<text x="621.7" y="400" font-size="8.3" text-anchor="end" fill="#333" stroke="#333" stroke-width="0.12">Small</text>
<circle cx="628" cy="407.7" r="0.8" fill="#aab6df" fill-opacity="0.6"/>
<text x="621.7" y="410.2" font-size="8.3" text-anchor="end" fill="#333" stroke="#333" stroke-width="0.12">Nano</text>
<text x="30.2" y="478" font-size="11.3" text-anchor="start" fill="#111" stroke="#111" stroke-width="0.1" font-weight="bold">c: Held-out validation with model scaling</text>
<line x1="27.6" y1="499.8" x2="134.3" y2="499.8" stroke="#8a8a8a" stroke-width="0.9"/>
<line x1="134.3" y1="499.8" x2="134.3" y2="621.2" stroke="#8a8a8a" stroke-width="0.9"/>
<line x1="27.6" y1="499.8" x2="27.6" y2="624.4" stroke="#3a3a3a" stroke-width="0.9"/>
<line x1="27.6" y1="621.2" x2="134.3" y2="621.2" stroke="#3a3a3a" stroke-width="0.9"/>
<line x1="27.6" y1="621.2" x2="27.6" y2="624.4" stroke="#3a3a3a" stroke-width="0.9"/>
<line x1="63.17" y1="621.2" x2="63.17" y2="624.4" stroke="#3a3a3a" stroke-width="0.9"/>
<line x1="98.73" y1="621.2" x2="98.73" y2="624.4" stroke="#3a3a3a" stroke-width="0.9"/>
<line x1="134.3" y1="621.2" x2="134.3" y2="624.4" stroke="#3a3a3a" stroke-width="0.9"/>
<line x1="24.8" y1="515.2" x2="27.6" y2="515.2" stroke="#3a3a3a" stroke-width="0.9"/>
<text x="21.9" y="518.1" font-size="8.3" text-anchor="end" fill="#333" stroke="#333" stroke-width="0.15">0.8</text>
<line x1="24.8" y1="540.58" x2="27.6" y2="540.58" stroke="#3a3a3a" stroke-width="0.9"/>
<text x="21.9" y="543.48" font-size="8.3" text-anchor="end" fill="#333" stroke="#333" stroke-width="0.15">0.7</text>
<line x1="24.8" y1="565.95" x2="27.6" y2="565.95" stroke="#3a3a3a" stroke-width="0.9"/>
<text x="21.9" y="568.85" font-size="8.3" text-anchor="end" fill="#333" stroke="#333" stroke-width="0.15">0.6</text>
<line x1="24.8" y1="591.33" x2="27.6" y2="591.33" stroke="#3a3a3a" stroke-width="0.9"/>
<text x="21.9" y="594.23" font-size="8.3" text-anchor="end" fill="#333" stroke="#333" stroke-width="0.15">0.5</text>
<line x1="24.8" y1="616.7" x2="27.6" y2="616.7" stroke="#3a3a3a" stroke-width="0.9"/>
<text x="21.9" y="619.6" font-size="8.3" text-anchor="end" fill="#333" stroke="#333" stroke-width="0.15">0.4</text>
<line x1="31.52" y1="535.2" x2="128.22" y2="505.3" stroke="#1b2449" stroke-width="1.4"/>
<line x1="31.52" y1="616.1" x2="128.22" y2="523.9" stroke="#a52ab3" stroke-width="1.4"/>
<circle cx="31.52" cy="532.1" r="2.6" fill="#838ca6"/>
<circle cx="62.67" cy="533.3" r="2.6" fill="#838ca6"/>
<circle cx="89.84" cy="513.3" r="2.6" fill="#838ca6"/>
<circle cx="110.93" cy="505.8" r="2.6" fill="#838ca6"/>
<circle cx="128.22" cy="509.2" r="2.6" fill="#838ca6"/>
<path d="M31.52 603.8L34.82 607.1L31.52 610.4L28.22 607.1Z" fill="#d98ad9"/>
<path d="M62.67 597.3L65.97 600.6L62.67 603.9L59.37 600.6Z" fill="#d98ad9"/>
<path d="M89.84 558L93.14 561.3L89.84 564.6L86.54 561.3Z" fill="#d98ad9"/>
<path d="M110.93 531.5L114.23 534.8L110.93 538.1L107.63 534.8Z" fill="#d98ad9"/>
<path d="M128.22 520.6L131.52 523.9L128.22 527.2L124.92 523.9Z" fill="#d98ad9"/>
<text x="80.95" y="496" font-size="9.9" text-anchor="middle" fill="#333" stroke="#333" stroke-width="0.08">Pearson's <tspan font-style="italic">r</tspan></text>
<line x1="164.6" y1="499.8" x2="271.3" y2="499.8" stroke="#8a8a8a" stroke-width="0.9"/>
<line x1="271.3" y1="499.8" x2="271.3" y2="621.2" stroke="#8a8a8a" stroke-width="0.9"/>
<line x1="164.6" y1="499.8" x2="164.6" y2="624.4" stroke="#3a3a3a" stroke-width="0.9"/>
<line x1="164.6" y1="621.2" x2="271.3" y2="621.2" stroke="#3a3a3a" stroke-width="0.9"/>
<line x1="164.6" y1="621.2" x2="164.6" y2="624.4" stroke="#3a3a3a" stroke-width="0.9"/>
<line x1="200.17" y1="621.2" x2="200.17" y2="624.4" stroke="#3a3a3a" stroke-width="0.9"/>
<line x1="235.73" y1="621.2" x2="235.73" y2="624.4" stroke="#3a3a3a" stroke-width="0.9"/>
<line x1="271.3" y1="621.2" x2="271.3" y2="624.4" stroke="#3a3a3a" stroke-width="0.9"/>
<line x1="161.8" y1="505.3" x2="164.6" y2="505.3" stroke="#3a3a3a" stroke-width="0.9"/>
<text x="158.9" y="508.2" font-size="8.3" text-anchor="end" fill="#333" stroke="#333" stroke-width="0.15">0.8</text>
<line x1="161.8" y1="530.45" x2="164.6" y2="530.45" stroke="#3a3a3a" stroke-width="0.9"/>
<text x="158.9" y="533.35" font-size="8.3" text-anchor="end" fill="#333" stroke="#333" stroke-width="0.15">0.7</text>
<line x1="161.8" y1="555.6" x2="164.6" y2="555.6" stroke="#3a3a3a" stroke-width="0.9"/>
<text x="158.9" y="558.5" font-size="8.3" text-anchor="end" fill="#333" stroke="#333" stroke-width="0.15">0.6</text>
<line x1="161.8" y1="580.75" x2="164.6" y2="580.75" stroke="#3a3a3a" stroke-width="0.9"/>
<text x="158.9" y="583.65" font-size="8.3" text-anchor="end" fill="#333" stroke="#333" stroke-width="0.15">0.5</text>
<line x1="161.8" y1="605.9" x2="164.6" y2="605.9" stroke="#3a3a3a" stroke-width="0.9"/>
<text x="158.9" y="608.8" font-size="8.3" text-anchor="end" fill="#333" stroke="#333" stroke-width="0.15">0.4</text>
<line x1="168.52" y1="535.6" x2="265.22" y2="506" stroke="#1b2449" stroke-width="1.4"/>
<line x1="168.52" y1="616.1" x2="265.22" y2="517.2" stroke="#a52ab3" stroke-width="1.4"/>
<circle cx="168.52" cy="536.2" r="2.6" fill="#838ca6"/>
<circle cx="199.67" cy="534" r="2.6" fill="#838ca6"/>
<circle cx="226.84" cy="505.5" r="2.6" fill="#838ca6"/>
<circle cx="247.93" cy="507.6" r="2.6" fill="#838ca6"/>
<circle cx="265.22" cy="514.3" r="2.6" fill="#838ca6"/>
<path d="M168.52 604.8L171.82 608.1L168.52 611.4L165.22 608.1Z" fill="#d98ad9"/>
<path d="M199.67 596.9L202.97 600.2L199.67 603.5L196.37 600.2Z" fill="#d98ad9"/>
<path d="M226.84 551.1L230.14 554.4L226.84 557.7L223.54 554.4Z" fill="#d98ad9"/>
<path d="M247.93 526.2L251.23 529.5L247.93 532.8L244.63 529.5Z" fill="#d98ad9"/>
<path d="M265.22 517.4L268.52 520.7L265.22 524L261.92 520.7Z" fill="#d98ad9"/>
<text x="217.95" y="496" font-size="9.9" text-anchor="middle" fill="#333" stroke="#333" stroke-width="0.08">MCC</text>
<line x1="310.2" y1="499.8" x2="416.6" y2="499.8" stroke="#8a8a8a" stroke-width="0.9"/>
<line x1="416.6" y1="499.8" x2="416.6" y2="621.2" stroke="#8a8a8a" stroke-width="0.9"/>
<line x1="310.2" y1="499.8" x2="310.2" y2="624.4" stroke="#3a3a3a" stroke-width="0.9"/>
<line x1="310.2" y1="621.2" x2="416.6" y2="621.2" stroke="#3a3a3a" stroke-width="0.9"/>
<line x1="310.2" y1="621.2" x2="310.2" y2="624.4" stroke="#3a3a3a" stroke-width="0.9"/>
<line x1="345.67" y1="621.2" x2="345.67" y2="624.4" stroke="#3a3a3a" stroke-width="0.9"/>
<line x1="381.13" y1="621.2" x2="381.13" y2="624.4" stroke="#3a3a3a" stroke-width="0.9"/>
<line x1="416.6" y1="621.2" x2="416.6" y2="624.4" stroke="#3a3a3a" stroke-width="0.9"/>
<line x1="307.4" y1="509.6" x2="310.2" y2="509.6" stroke="#3a3a3a" stroke-width="0.9"/>
<text x="304.5" y="512.5" font-size="8.3" text-anchor="end" fill="#333" stroke="#333" stroke-width="0.15">0.8</text>
<line x1="307.4" y1="528.23" x2="310.2" y2="528.23" stroke="#3a3a3a" stroke-width="0.9"/>
<text x="304.5" y="531.13" font-size="8.3" text-anchor="end" fill="#333" stroke="#333" stroke-width="0.15">0.7</text>
<line x1="307.4" y1="546.87" x2="310.2" y2="546.87" stroke="#3a3a3a" stroke-width="0.9"/>
<text x="304.5" y="549.77" font-size="8.3" text-anchor="end" fill="#333" stroke="#333" stroke-width="0.15">0.6</text>
<line x1="307.4" y1="565.5" x2="310.2" y2="565.5" stroke="#3a3a3a" stroke-width="0.9"/>
<text x="304.5" y="568.4" font-size="8.3" text-anchor="end" fill="#333" stroke="#333" stroke-width="0.15">0.5</text>
<line x1="307.4" y1="584.13" x2="310.2" y2="584.13" stroke="#3a3a3a" stroke-width="0.9"/>
<text x="304.5" y="587.03" font-size="8.3" text-anchor="end" fill="#333" stroke="#333" stroke-width="0.15">0.4</text>
<line x1="307.4" y1="602.77" x2="310.2" y2="602.77" stroke="#3a3a3a" stroke-width="0.9"/>
<text x="304.5" y="605.67" font-size="8.3" text-anchor="end" fill="#333" stroke="#333" stroke-width="0.15">0.3</text>
<line x1="307.4" y1="621.4" x2="310.2" y2="621.4" stroke="#3a3a3a" stroke-width="0.9"/>
<text x="304.5" y="624.3" font-size="8.3" text-anchor="end" fill="#333" stroke="#333" stroke-width="0.15">0.2</text>
<line x1="314.1" y1="539.9" x2="410.54" y2="509.3" stroke="#1b2449" stroke-width="1.4"/>
<line x1="314.1" y1="617.3" x2="410.54" y2="523" stroke="#a52ab3" stroke-width="1.4"/>
<circle cx="314.1" cy="539.5" r="2.6" fill="#838ca6"/>
<circle cx="345.17" cy="537.8" r="2.6" fill="#838ca6"/>
<circle cx="372.26" cy="510.7" r="2.6" fill="#838ca6"/>
<circle cx="393.3" cy="511.3" r="2.6" fill="#838ca6"/>
<circle cx="410.54" cy="516.4" r="2.6" fill="#838ca6"/>
<path d="M314.1 605.5L317.4 608.8L314.1 612.1L310.8 608.8Z" fill="#d98ad9"/>
<path d="M345.17 598.7L348.47 602L345.17 605.3L341.87 602Z" fill="#d98ad9"/>
<path d="M372.26 554L375.56 557.3L372.26 560.6L368.96 557.3Z" fill="#d98ad9"/>
<path d="M393.3 527.6L396.6 530.9L393.3 534.2L390 530.9Z" fill="#d98ad9"/>
<path d="M410.54 519.9L413.84 523.2L410.54 526.5L407.24 523.2Z" fill="#d98ad9"/>
<text x="363.4" y="496" font-size="9.9" text-anchor="middle" fill="#333" stroke="#333" stroke-width="0.08">Cohen's <tspan font-style="italic">κ</tspan></text>
<line x1="450.5" y1="499.8" x2="557.2" y2="499.8" stroke="#8a8a8a" stroke-width="0.9"/>
<line x1="557.2" y1="499.8" x2="557.2" y2="621.2" stroke="#8a8a8a" stroke-width="0.9"/>
<line x1="450.5" y1="499.8" x2="450.5" y2="624.4" stroke="#3a3a3a" stroke-width="0.9"/>
<line x1="450.5" y1="621.2" x2="557.2" y2="621.2" stroke="#3a3a3a" stroke-width="0.9"/>
<line x1="450.5" y1="621.2" x2="450.5" y2="624.4" stroke="#3a3a3a" stroke-width="0.9"/>
<line x1="486.07" y1="621.2" x2="486.07" y2="624.4" stroke="#3a3a3a" stroke-width="0.9"/>
<line x1="521.63" y1="621.2" x2="521.63" y2="624.4" stroke="#3a3a3a" stroke-width="0.9"/>
<line x1="557.2" y1="621.2" x2="557.2" y2="624.4" stroke="#3a3a3a" stroke-width="0.9"/>
<line x1="447.7" y1="499.8" x2="450.5" y2="499.8" stroke="#3a3a3a" stroke-width="0.9"/>
<text x="444.8" y="502.7" font-size="8.3" text-anchor="end" fill="#333" stroke="#333" stroke-width="0.15">0.4</text>
<line x1="447.7" y1="530.15" x2="450.5" y2="530.15" stroke="#3a3a3a" stroke-width="0.9"/>
<text x="444.8" y="533.05" font-size="8.3" text-anchor="end" fill="#333" stroke="#333" stroke-width="0.15">0.3</text>
<line x1="447.7" y1="560.5" x2="450.5" y2="560.5" stroke="#3a3a3a" stroke-width="0.9"/>
<text x="444.8" y="563.4" font-size="8.3" text-anchor="end" fill="#333" stroke="#333" stroke-width="0.15">0.2</text>
<line x1="447.7" y1="590.85" x2="450.5" y2="590.85" stroke="#3a3a3a" stroke-width="0.9"/>
<text x="444.8" y="593.75" font-size="8.3" text-anchor="end" fill="#333" stroke="#333" stroke-width="0.15">0.1</text>
<line x1="447.7" y1="621.2" x2="450.5" y2="621.2" stroke="#3a3a3a" stroke-width="0.9"/>
<text x="444.8" y="624.1" font-size="8.3" text-anchor="end" fill="#333" stroke="#333" stroke-width="0.15">0.0</text>
<line x1="454.42" y1="505.1" x2="551.12" y2="596.1" stroke="#1b2449" stroke-width="1.4"/>
<line x1="454.42" y1="530.3" x2="551.12" y2="618.6" stroke="#a52ab3" stroke-width="1.4"/>
<circle cx="454.42" cy="513.9" r="2.6" fill="#838ca6"/>
<circle cx="485.57" cy="513.5" r="2.6" fill="#838ca6"/>
<circle cx="512.74" cy="568.5" r="2.6" fill="#838ca6"/>
<circle cx="533.83" cy="590.6" r="2.6" fill="#838ca6"/>
<circle cx="551.12" cy="588.5" r="2.6" fill="#838ca6"/>
<path d="M454.42 531.9L457.72 535.2L454.42 538.5L451.12 535.2Z" fill="#d98ad9"/>
<path d="M485.57 541.7L488.87 545L485.57 548.3L482.27 545Z" fill="#d98ad9"/>
<path d="M512.74 589.3L516.04 592.6L512.74 595.9L509.44 592.6Z" fill="#d98ad9"/>
<path d="M533.83 605.7L537.13 609L533.83 612.3L530.53 609Z" fill="#d98ad9"/>
<path d="M551.12 608.9L554.42 612.2L551.12 615.5L547.82 612.2Z" fill="#d98ad9"/>
<text x="503.85" y="496" font-size="9.9" text-anchor="middle" fill="#333" stroke="#333" stroke-width="0.08">cross entropy</text>
<line x1="28.5" y1="651.4" x2="135.5" y2="651.4" stroke="#8a8a8a" stroke-width="0.9"/>
<line x1="135.5" y1="651.4" x2="135.5" y2="773.2" stroke="#8a8a8a" stroke-width="0.9"/>
<line x1="28.5" y1="651.4" x2="28.5" y2="776.4" stroke="#3a3a3a" stroke-width="0.9"/>
<line x1="28.5" y1="773.2" x2="135.5" y2="773.2" stroke="#3a3a3a" stroke-width="0.9"/>
<line x1="28.5" y1="773.2" x2="28.5" y2="776.4" stroke="#3a3a3a" stroke-width="0.9"/>
<text x="28.5" y="784.6" font-size="8.3" text-anchor="middle" fill="#333" stroke="#333" stroke-width="0.15">30k</text>
<line x1="64.17" y1="773.2" x2="64.17" y2="776.4" stroke="#3a3a3a" stroke-width="0.9"/>
<text x="64.17" y="784.6" font-size="8.3" text-anchor="middle" fill="#333" stroke="#333" stroke-width="0.15">300k</text>
<line x1="99.83" y1="773.2" x2="99.83" y2="776.4" stroke="#3a3a3a" stroke-width="0.9"/>
<text x="99.83" y="784.6" font-size="8.3" text-anchor="middle" fill="#333" stroke="#333" stroke-width="0.15">3m</text>
<line x1="135.5" y1="773.2" x2="135.5" y2="776.4" stroke="#3a3a3a" stroke-width="0.9"/>
<text x="135.5" y="784.6" font-size="8.3" text-anchor="middle" fill="#333" stroke="#333" stroke-width="0.15">30m</text>
<line x1="25.7" y1="651.3" x2="28.5" y2="651.3" stroke="#3a3a3a" stroke-width="0.9"/>
<text x="22.8" y="654.2" font-size="8.3" text-anchor="end" fill="#333" stroke="#333" stroke-width="0.15">1.000</text>
<line x1="25.7" y1="675.68" x2="28.5" y2="675.68" stroke="#3a3a3a" stroke-width="0.9"/>
<text x="22.8" y="678.58" font-size="8.3" text-anchor="end" fill="#333" stroke="#333" stroke-width="0.15">0.995</text>
<line x1="25.7" y1="700.06" x2="28.5" y2="700.06" stroke="#3a3a3a" stroke-width="0.9"/>
<text x="22.8" y="702.96" font-size="8.3" text-anchor="end" fill="#333" stroke="#333" stroke-width="0.15">0.990</text>
<line x1="25.7" y1="724.44" x2="28.5" y2="724.44" stroke="#3a3a3a" stroke-width="0.9"/>
<text x="22.8" y="727.34" font-size="8.3" text-anchor="end" fill="#333" stroke="#333" stroke-width="0.15">0.985</text>
<line x1="25.7" y1="748.82" x2="28.5" y2="748.82" stroke="#3a3a3a" stroke-width="0.9"/>
<text x="22.8" y="751.72" font-size="8.3" text-anchor="end" fill="#333" stroke="#333" stroke-width="0.15">0.980</text>
<line x1="25.7" y1="773.2" x2="28.5" y2="773.2" stroke="#3a3a3a" stroke-width="0.9"/>
<text x="22.8" y="776.1" font-size="8.3" text-anchor="end" fill="#333" stroke="#333" stroke-width="0.15">0.975</text>
<line x1="32.43" y1="753.1" x2="129.4" y2="736.3" stroke="#1b2449" stroke-width="1.4"/>
<line x1="32.43" y1="694" x2="129.4" y2="670.1" stroke="#a52ab3" stroke-width="1.4"/>
<circle cx="32.43" cy="748.9" r="2.6" fill="#838ca6"/>
<circle cx="63.67" cy="758.7" r="2.6" fill="#838ca6"/>
<circle cx="90.91" cy="734.4" r="2.6" fill="#838ca6"/>
<circle cx="112.07" cy="739.3" r="2.6" fill="#838ca6"/>
<circle cx="129.4" cy="739.3" r="2.6" fill="#838ca6"/>
<path d="M32.43 692.2L35.73 695.5L32.43 698.8L29.13 695.5Z" fill="#d98ad9"/>
<path d="M63.67 682.8L66.97 686.1L63.67 689.4L60.37 686.1Z" fill="#d98ad9"/>
<path d="M90.91 672.6L94.21 675.9L90.91 679.2L87.61 675.9Z" fill="#d98ad9"/>
<path d="M112.07 672.6L115.37 675.9L112.07 679.2L108.77 675.9Z" fill="#d98ad9"/>
<path d="M129.4 667.7L132.7 671L129.4 674.3L126.1 671Z" fill="#d98ad9"/>
<text x="82" y="647.6" font-size="9.9" text-anchor="middle" fill="#333" stroke="#333" stroke-width="0.08">AUC<tspan font-size="7" dy="1.8">cc</tspan></text>
<line x1="163.6" y1="651.4" x2="270.3" y2="651.4" stroke="#8a8a8a" stroke-width="0.9"/>
<line x1="270.3" y1="651.4" x2="270.3" y2="773.2" stroke="#8a8a8a" stroke-width="0.9"/>
<line x1="163.6" y1="651.4" x2="163.6" y2="776.4" stroke="#3a3a3a" stroke-width="0.9"/>
<line x1="163.6" y1="773.2" x2="270.3" y2="773.2" stroke="#3a3a3a" stroke-width="0.9"/>
<line x1="163.6" y1="773.2" x2="163.6" y2="776.4" stroke="#3a3a3a" stroke-width="0.9"/>
<text x="163.6" y="784.6" font-size="8.3" text-anchor="middle" fill="#333" stroke="#333" stroke-width="0.15">30k</text>
<line x1="199.17" y1="773.2" x2="199.17" y2="776.4" stroke="#3a3a3a" stroke-width="0.9"/>
<text x="199.17" y="784.6" font-size="8.3" text-anchor="middle" fill="#333" stroke="#333" stroke-width="0.15">300k</text>
<line x1="234.73" y1="773.2" x2="234.73" y2="776.4" stroke="#3a3a3a" stroke-width="0.9"/>
<text x="234.73" y="784.6" font-size="8.3" text-anchor="middle" fill="#333" stroke="#333" stroke-width="0.15">3m</text>
<line x1="270.3" y1="773.2" x2="270.3" y2="776.4" stroke="#3a3a3a" stroke-width="0.9"/>
<text x="270.3" y="784.6" font-size="8.3" text-anchor="middle" fill="#333" stroke="#333" stroke-width="0.15">30m</text>
<line x1="160.8" y1="662.2" x2="163.6" y2="662.2" stroke="#3a3a3a" stroke-width="0.9"/>
<text x="157.9" y="665.1" font-size="8.3" text-anchor="end" fill="#333" stroke="#333" stroke-width="0.15">0.80</text>
<line x1="160.8" y1="682.26" x2="163.6" y2="682.26" stroke="#3a3a3a" stroke-width="0.9"/>
<text x="157.9" y="685.16" font-size="8.3" text-anchor="end" fill="#333" stroke="#333" stroke-width="0.15">0.75</text>
<line x1="160.8" y1="702.32" x2="163.6" y2="702.32" stroke="#3a3a3a" stroke-width="0.9"/>
<text x="157.9" y="705.22" font-size="8.3" text-anchor="end" fill="#333" stroke="#333" stroke-width="0.15">0.70</text>
<line x1="160.8" y1="722.38" x2="163.6" y2="722.38" stroke="#3a3a3a" stroke-width="0.9"/>
<text x="157.9" y="725.28" font-size="8.3" text-anchor="end" fill="#333" stroke="#333" stroke-width="0.15">0.65</text>
<line x1="160.8" y1="742.44" x2="163.6" y2="742.44" stroke="#3a3a3a" stroke-width="0.9"/>
<text x="157.9" y="745.34" font-size="8.3" text-anchor="end" fill="#333" stroke="#333" stroke-width="0.15">0.60</text>
<line x1="160.8" y1="762.5" x2="163.6" y2="762.5" stroke="#3a3a3a" stroke-width="0.9"/>
<text x="157.9" y="765.4" font-size="8.3" text-anchor="end" fill="#333" stroke="#333" stroke-width="0.15">0.55</text>
<line x1="167.52" y1="672.9" x2="264.22" y2="660.9" stroke="#1b2449" stroke-width="1.4"/>
<line x1="167.52" y1="768.1" x2="264.22" y2="706.8" stroke="#a52ab3" stroke-width="1.4"/>
<circle cx="167.52" cy="666.1" r="2.6" fill="#838ca6"/>
<circle cx="198.67" cy="684.2" r="2.6" fill="#838ca6"/>
<circle cx="225.84" cy="659.9" r="2.6" fill="#838ca6"/>
<circle cx="246.93" cy="657.1" r="2.6" fill="#838ca6"/>
<circle cx="264.22" cy="664.4" r="2.6" fill="#838ca6"/>
<path d="M167.52 757.9L170.82 761.2L167.52 764.5L164.22 761.2Z" fill="#d98ad9"/>
<path d="M198.67 754.3L201.97 757.6L198.67 760.9L195.37 757.6Z" fill="#d98ad9"/>
<path d="M225.84 726.1L229.14 729.4L225.84 732.7L222.54 729.4Z" fill="#d98ad9"/>
<path d="M246.93 718.5L250.23 721.8L246.93 725.1L243.63 721.8Z" fill="#d98ad9"/>
<path d="M264.22 698.6L267.52 701.9L264.22 705.2L260.92 701.9Z" fill="#d98ad9"/>
<text x="216.95" y="647.6" font-size="9.9" text-anchor="middle" fill="#333" stroke="#333" stroke-width="0.08">AP50<tspan font-size="7" dy="1.8">cc</tspan></text>
<line x1="308.4" y1="651.4" x2="415.6" y2="651.4" stroke="#8a8a8a" stroke-width="0.9"/>
<line x1="415.6" y1="651.4" x2="415.6" y2="773.2" stroke="#8a8a8a" stroke-width="0.9"/>
<line x1="308.4" y1="651.4" x2="308.4" y2="776.4" stroke="#3a3a3a" stroke-width="0.9"/>
<line x1="308.4" y1="773.2" x2="415.6" y2="773.2" stroke="#3a3a3a" stroke-width="0.9"/>
<line x1="308.4" y1="773.2" x2="308.4" y2="776.4" stroke="#3a3a3a" stroke-width="0.9"/>
<text x="308.4" y="784.6" font-size="8.3" text-anchor="middle" fill="#333" stroke="#333" stroke-width="0.15">30k</text>
<line x1="344.13" y1="773.2" x2="344.13" y2="776.4" stroke="#3a3a3a" stroke-width="0.9"/>
<text x="344.13" y="784.6" font-size="8.3" text-anchor="middle" fill="#333" stroke="#333" stroke-width="0.15">300k</text>
<line x1="379.87" y1="773.2" x2="379.87" y2="776.4" stroke="#3a3a3a" stroke-width="0.9"/>
<text x="379.87" y="784.6" font-size="8.3" text-anchor="middle" fill="#333" stroke="#333" stroke-width="0.15">3m</text>
<line x1="415.6" y1="773.2" x2="415.6" y2="776.4" stroke="#3a3a3a" stroke-width="0.9"/>
<text x="415.6" y="784.6" font-size="8.3" text-anchor="middle" fill="#333" stroke="#333" stroke-width="0.15">30m</text>
<line x1="305.6" y1="651.6" x2="308.4" y2="651.6" stroke="#3a3a3a" stroke-width="0.9"/>
<text x="302.7" y="654.5" font-size="8.3" text-anchor="end" fill="#333" stroke="#333" stroke-width="0.15">6</text>
<line x1="305.6" y1="671.87" x2="308.4" y2="671.87" stroke="#3a3a3a" stroke-width="0.9"/>
<text x="302.7" y="674.77" font-size="8.3" text-anchor="end" fill="#333" stroke="#333" stroke-width="0.15">5</text>
<line x1="305.6" y1="692.13" x2="308.4" y2="692.13" stroke="#3a3a3a" stroke-width="0.9"/>
<text x="302.7" y="695.03" font-size="8.3" text-anchor="end" fill="#333" stroke="#333" stroke-width="0.15">4</text>
<line x1="305.6" y1="712.4" x2="308.4" y2="712.4" stroke="#3a3a3a" stroke-width="0.9"/>
<text x="302.7" y="715.3" font-size="8.3" text-anchor="end" fill="#333" stroke="#333" stroke-width="0.15">3</text>
<line x1="305.6" y1="732.67" x2="308.4" y2="732.67" stroke="#3a3a3a" stroke-width="0.9"/>
<text x="302.7" y="735.57" font-size="8.3" text-anchor="end" fill="#333" stroke="#333" stroke-width="0.15">2</text>
<line x1="305.6" y1="752.93" x2="308.4" y2="752.93" stroke="#3a3a3a" stroke-width="0.9"/>
<text x="302.7" y="755.83" font-size="8.3" text-anchor="end" fill="#333" stroke="#333" stroke-width="0.15">1</text>
<line x1="305.6" y1="773.2" x2="308.4" y2="773.2" stroke="#3a3a3a" stroke-width="0.9"/>
<text x="302.7" y="776.1" font-size="8.3" text-anchor="end" fill="#333" stroke="#333" stroke-width="0.15">0</text>
<line x1="312.33" y1="655" x2="409.49" y2="766.6" stroke="#1b2449" stroke-width="1.4"/>
<line x1="312.33" y1="696.8" x2="409.49" y2="770" stroke="#a52ab3" stroke-width="1.4"/>
<circle cx="312.33" cy="668" r="2.6" fill="#838ca6"/>
<circle cx="343.64" cy="663.5" r="2.6" fill="#838ca6"/>
<circle cx="370.93" cy="735.8" r="2.6" fill="#838ca6"/>
<circle cx="392.12" cy="757.6" r="2.6" fill="#838ca6"/>
<circle cx="409.49" cy="764" r="2.6" fill="#838ca6"/>
<path d="M312.33 701.4L315.63 704.7L312.33 708L309.03 704.7Z" fill="#d98ad9"/>
<path d="M343.64 698.8L346.94 702.1L343.64 705.4L340.34 702.1Z" fill="#d98ad9"/>
<path d="M370.93 746.6L374.23 749.9L370.93 753.2L367.63 749.9Z" fill="#d98ad9"/>
<path d="M392.12 760.3L395.42 763.6L392.12 766.9L388.82 763.6Z" fill="#d98ad9"/>
<path d="M409.49 762.4L412.79 765.7L409.49 769L406.19 765.7Z" fill="#d98ad9"/>
<text x="362" y="647.6" font-size="9.9" text-anchor="middle" fill="#333" stroke="#333" stroke-width="0.08">FD/h</text>
<line x1="450.4" y1="651.4" x2="556.8" y2="651.4" stroke="#8a8a8a" stroke-width="0.9"/>
<line x1="556.8" y1="651.4" x2="556.8" y2="773.2" stroke="#8a8a8a" stroke-width="0.9"/>
<line x1="450.4" y1="651.4" x2="450.4" y2="776.4" stroke="#3a3a3a" stroke-width="0.9"/>
<line x1="450.4" y1="773.2" x2="556.8" y2="773.2" stroke="#3a3a3a" stroke-width="0.9"/>
<line x1="450.4" y1="773.2" x2="450.4" y2="776.4" stroke="#3a3a3a" stroke-width="0.9"/>
<text x="450.4" y="784.6" font-size="8.3" text-anchor="middle" fill="#333" stroke="#333" stroke-width="0.15">30k</text>
<line x1="485.87" y1="773.2" x2="485.87" y2="776.4" stroke="#3a3a3a" stroke-width="0.9"/>
<text x="485.87" y="784.6" font-size="8.3" text-anchor="middle" fill="#333" stroke="#333" stroke-width="0.15">300k</text>
<line x1="521.33" y1="773.2" x2="521.33" y2="776.4" stroke="#3a3a3a" stroke-width="0.9"/>
<text x="521.33" y="784.6" font-size="8.3" text-anchor="middle" fill="#333" stroke="#333" stroke-width="0.15">3m</text>
<line x1="556.8" y1="773.2" x2="556.8" y2="776.4" stroke="#3a3a3a" stroke-width="0.9"/>
<text x="556.8" y="784.6" font-size="8.3" text-anchor="middle" fill="#333" stroke="#333" stroke-width="0.15">30m</text>
<line x1="447.6" y1="663.5" x2="450.4" y2="663.5" stroke="#3a3a3a" stroke-width="0.9"/>
<text x="444.7" y="666.4" font-size="8.3" text-anchor="end" fill="#333" stroke="#333" stroke-width="0.15">0.8</text>
<line x1="447.6" y1="685.36" x2="450.4" y2="685.36" stroke="#3a3a3a" stroke-width="0.9"/>
<text x="444.7" y="688.26" font-size="8.3" text-anchor="end" fill="#333" stroke="#333" stroke-width="0.15">0.7</text>
<line x1="447.6" y1="707.22" x2="450.4" y2="707.22" stroke="#3a3a3a" stroke-width="0.9"/>
<text x="444.7" y="710.12" font-size="8.3" text-anchor="end" fill="#333" stroke="#333" stroke-width="0.15">0.6</text>
<line x1="447.6" y1="729.08" x2="450.4" y2="729.08" stroke="#3a3a3a" stroke-width="0.9"/>
<text x="444.7" y="731.98" font-size="8.3" text-anchor="end" fill="#333" stroke="#333" stroke-width="0.15">0.5</text>
<line x1="447.6" y1="750.94" x2="450.4" y2="750.94" stroke="#3a3a3a" stroke-width="0.9"/>
<text x="444.7" y="753.84" font-size="8.3" text-anchor="end" fill="#333" stroke="#333" stroke-width="0.15">0.4</text>
<line x1="447.6" y1="772.8" x2="450.4" y2="772.8" stroke="#3a3a3a" stroke-width="0.9"/>
<text x="444.7" y="775.7" font-size="8.3" text-anchor="end" fill="#333" stroke="#333" stroke-width="0.15">0.3</text>
<line x1="454.3" y1="680.1" x2="550.74" y2="665.9" stroke="#1b2449" stroke-width="1.4"/>
<line x1="454.3" y1="768.1" x2="550.74" y2="693" stroke="#a52ab3" stroke-width="1.4"/>
<circle cx="454.3" cy="680.4" r="2.6" fill="#838ca6"/>
<circle cx="485.37" cy="679.3" r="2.6" fill="#838ca6"/>
<circle cx="512.46" cy="666.5" r="2.6" fill="#838ca6"/>
<circle cx="533.5" cy="657.1" r="2.6" fill="#838ca6"/>
<circle cx="550.74" cy="676.5" r="2.6" fill="#838ca6"/>
<path d="M454.3 759.7L457.6 763L454.3 766.3L451 763Z" fill="#d98ad9"/>
<path d="M485.37 747.5L488.67 750.8L485.37 754.1L482.07 750.8Z" fill="#d98ad9"/>
<path d="M512.46 720.6L515.76 723.9L512.46 727.2L509.16 723.9Z" fill="#d98ad9"/>
<path d="M533.5 697.1L536.8 700.4L533.5 703.7L530.2 700.4Z" fill="#d98ad9"/>
<path d="M550.74 689.2L554.04 692.5L550.74 695.8L547.44 692.5Z" fill="#d98ad9"/>
<text x="503.6" y="647.6" font-size="9.9" text-anchor="middle" fill="#333" stroke="#333" stroke-width="0.08">seizure burden <tspan font-style="italic">r</tspan></text>
<text x="281.2" y="798.7" font-size="9.6" text-anchor="middle" fill="#333" stroke="#333" stroke-width="0.08">number of parameters (log scale)</text>
<rect x="584.8" y="613.4" width="96.8" height="50.6" fill="#fff" rx="3" filter="url(#sh)"/>
<text x="593" y="625.4" font-size="8.1" text-anchor="start" fill="#777" stroke="#777" stroke-width="0.05">Validation set:</text>
<line x1="592.6" y1="634.3" x2="598.4" y2="634.3" stroke="#1b2449" stroke-width="1"/>
<circle cx="595.5" cy="638.6" r="1.7" fill="#1b2449"/>
<text x="604" y="640.2" font-size="9.3" text-anchor="start" fill="#222" stroke="#222" stroke-width="0.12">Helsinki</text>
<line x1="592.6" y1="649.3" x2="598.4" y2="649.3" stroke="#b030c0" stroke-width="1"/>
<path d="M595.5 651.1L597.8 653.4L595.5 655.7L593.2 653.4Z" fill="#a020b0"/>
<text x="604" y="655.3" font-size="9.3" text-anchor="start" fill="#222" stroke="#222" stroke-width="0.12">Cork</text></svg>
</body></html>
